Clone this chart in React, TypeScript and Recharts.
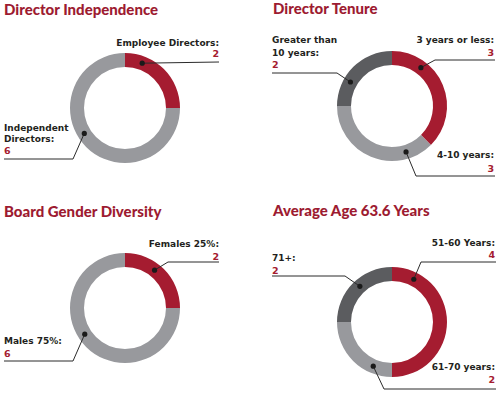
import { PieChart, Pie, Cell } from 'recharts';

// chart data
const independenceLabels = [['Employee Directors:'], ['Independent', 'Directors:']];
const independenceValues = [2, 6];

const tenureLabels = [['3 years or less:'], ['4-10 years:'], ['Greater than', '10 years:']];
const tenureValues = [3, 3, 2];

const genderLabels = [['Females 25%:'], ['Males 75%:']];
const genderValues = [2, 6];

const ageLabels = [['51-60 Years:'], ['61-70 years:'], ['71+:']];
const ageValues = [4, 2, 2];

const titles = ['Director Independence', 'Director Tenure', 'Board Gender Diversity', 'Average Age 63.6 Years'];

const RED = '#a51c30';
const LIGHT = '#98999d';
const DARK = '#5b5c5f';
const TITLE_RED = '#9d1b31';
const INK = '#231f20';
const TITLE_FONT = 'Lato, "Open Sans", sans-serif';
const LABEL_FONT = '"DejaVu Sans", Verdana, sans-serif';

// label placement, relative to each pie's center
type Place = {
  angle: number; // clockwise from 12 o'clock
  path: [number, number][];
  anchor: 'start' | 'end';
  x: number;
  lines: number[];
  valueY: number;
};

const independencePlaces: Place[] = [
  { angle: 21, path: [[94, -46]], anchor: 'end', x: 94, lines: [-62], valueY: -51 },
  { angle: 238, path: [[-52, 51], [-121, 51]], anchor: 'start', x: -121, lines: [23, 34], valueY: 46 },
];
const tenurePlaces: Place[] = [
  { angle: 37, path: [[43, -46], [103, -46]], anchor: 'end', x: 102, lines: [-63], valueY: -50 },
  { angle: 163, path: [[24, 70], [103, 70]], anchor: 'end', x: 102, lines: [52], valueY: 66 },
  { angle: 300, path: [[-55, -33], [-120, -33]], anchor: 'start', x: -120, lines: [-63, -50], valueY: -38 },
];
const genderPlaces: Place[] = [
  { angle: 38, path: [[43, -46], [94, -46]], anchor: 'end', x: 94, lines: [-61], valueY: -48 },
  { angle: 237, path: [[-52, 53], [-121, 53]], anchor: 'start', x: -121, lines: [36], valueY: 49 },
];
const agePlaces: Place[] = [
  { angle: 27, path: [[29, -60], [104, -60]], anchor: 'end', x: 103, lines: [-76], valueY: -64 },
  { angle: 203, path: [[-8, 67], [104, 67]], anchor: 'end', x: 103, lines: [48], valueY: 61 },
  { angle: 318, path: [[-47, -46], [-120, -46]], anchor: 'start', x: -120, lines: [-61], valueY: -48 },
];

const panels = [
  { labels: independenceLabels, values: independenceValues, colors: [RED, LIGHT], places: independencePlaces, cx: 125, cy: 108, tx: 4, ty: 15 },
  { labels: tenureLabels, values: tenureValues, colors: [RED, LIGHT, DARK], places: tenurePlaces, cx: 392, cy: 106, tx: 273, ty: 14 },
  { labels: genderLabels, values: genderValues, colors: [RED, LIGHT], places: genderPlaces, cx: 125, cy: 308, tx: 4, ty: 217 },
  { labels: ageLabels, values: ageValues, colors: [RED, LIGHT, DARK], places: agePlaces, cx: 392, cy: 322, tx: 273, ty: 216 },
];

function makeLabel(labels: string[][], places: Place[]) {
  return (props: any) => {
    const { cx, cy, innerRadius, outerRadius, index, value } = props;
    const p = places[index];
    const r = (innerRadius + outerRadius) / 2;
    const a = (p.angle * Math.PI) / 180;
    const dx = cx + r * Math.sin(a);
    const dy = cy - r * Math.cos(a);
    const pts = [[dx, dy], ...p.path.map(([x, y]) => [cx + x, cy + y])];
    return (
      <g key={`lbl-${index}`}>
        <polyline points={pts.map((q) => q.join(',')).join(' ')} fill="none" stroke="#2b2b2b" strokeWidth={1} />
        <circle cx={dx} cy={dy} r={2.6} fill="#1a1a1a" />
        {labels[index].map((t, i) => (
          <text key={i} x={cx + p.x} y={cy + p.lines[i]} textAnchor={p.anchor} fill={INK} fontSize={9} fontWeight={700} fontFamily={LABEL_FONT}>
            {t}
          </text>
        ))}
        <text x={cx + p.x} y={cy + p.valueY} textAnchor={p.anchor} fill={RED} fontSize={9.5} fontWeight={700} fontFamily={LABEL_FONT}>
          {value}
        </text>
      </g>
    );
  };
}

export default function App() {
  return (
    <div style={{ position: 'absolute', left: 0, top: 0, width: 499, height: 395, background: '#fff' }}>
      <PieChart width={499} height={395} margin={{ top: 0, right: 0, bottom: 0, left: 0 }}>
        {panels.map((pn, k) => {
          const data = pn.values.map((v, i) => ({ name: pn.labels[i].join(' '), value: v }));
          return (
            <Pie
              key={k}
              data={data}
              dataKey="value"
              cx={pn.cx}
              cy={pn.cy}
              innerRadius={41}
              outerRadius={55}
              startAngle={90}
              endAngle={-270}
              stroke="none"
              label={makeLabel(pn.labels, pn.places)}
              labelLine={false}
              isAnimationActive={false}
            >
              {data.map((_, i) => (
                <Cell key={i} fill={pn.colors[i]} />
              ))}
            </Pie>
          );
        })}
        {panels.map((pn, k) => (
          <text key={`t${k}`} x={pn.tx} y={pn.ty} fill={TITLE_RED} fontSize={15} fontWeight={900} fontFamily={TITLE_FONT}>
            {titles[k]}
          </text>
        ))}
      </PieChart>
    </div>
  );
}
